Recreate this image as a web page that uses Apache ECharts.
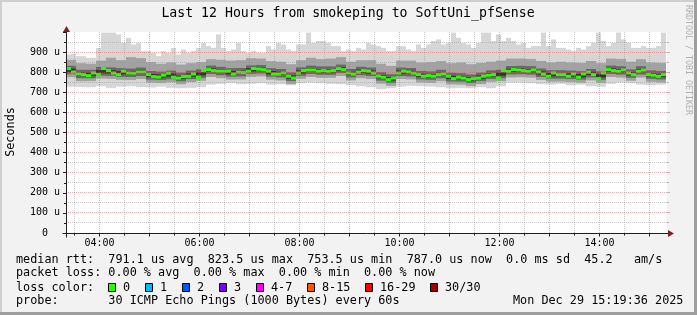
<!DOCTYPE html>
<html><head><meta charset="utf-8">
<script src="https://cdn.jsdelivr.net/npm/echarts@6/dist/echarts.min.js"></script>
<style>html,body{margin:0;padding:0;background:#f2f2f2;}#c{width:697px;height:315px;}</style>
</head><body><div id="c"></div>
<script>
// ---------- data ----------
const titleText = 'Last 12 Hours from smokeping to SoftUni_pfSense';
const startMin = 199.8;   // 03:19:48 in minutes after midnight
const endMin = 921.0;
const medStep = 6;        // minutes per median / max sample
const bandStep = 12;      // minutes per smoke band sample

// median rtt (µs)
const median = [818,801,791,788,783,796,788,818,808,796,788,805,796,795,801,801,788,778,776,785,795,775,771,778,780,791,775,808,813,808,
805,805,805,791,800,798,805,818,815,813,805,791,791,796,780,771,796,808,811,811,805,808,805,808,818,813,796,791,801,808,
805,796,780,775,763,771,796,805,801,796,788,780,783,780,788,791,780,768,775,771,763,768,771,780,785,788,771,808,805,813,
811,808,805,811,801,791,780,796,788,788,780,791,775,791,800,788,768,796,813,808,805,811,796,788,805,810,788,785,780,788];
// highest ping (µs)
const pingMax = [888,891,880,880,871,871,921,997,997,997,988,946,971,938,946,905,905,896,880,905,896,921,888,913,896,905,921,946,930,921,
988,921,905,913,946,905,896,905,896,896,930,913,946,938,913,905,938,938,997,946,955,955,946,930,930,905,913,905,921,913,
946,938,930,921,905,905,930,930,913,905,938,921,938,955,963,938,946,997,971,946,938,921,946,997,997,955,988,955,971,955,
938,946,921,930,930,997,930,963,921,921,913,905,921,913,930,946,997,955,930,946,997,963,946,921,921,930,921,921,930,997];
// lowest ping (µs)
const pingMin = [728,726,725,730,722,728,730,726,724,728,722,720,722,725,738,
742,745,740,742,745,738,740,735,745,748,745,742,740,735,730,
725,715,720,728,732,730,728,725,720,722,720,725,720,730,748,
748,745,740,738,742,735,738,730,728,742,748,745,738,735,738];
// smoke percentiles (µs)
const p90 = [862,845,842,858,872,860,875,870,850,842,848,838,845,850,865, 862,858,860,870,868,855,852,840,860,872,865,868,875,852,860,
860,842,832,858,858,848,850,855,845,848,840,846,852,858,868, 868,866,856,848,852,848,846,856,845,868,866,852,865,848,846];
const p75 = [832,812,812,826,824,820,818,823,806,803,808,798,808,814,833, 827,820,821,834,836,820,816,799,824,833,829,829,838,816,827,
823,800,790,823,821,806,804,812,797,795,789,798,809,812,831, 832,830,818,810,810,808,805,816,804,833,830,814,830,809,806];
const p60 = [818,798,798,811,810,805,804,809,791,789,793,783,794,800,819, 813,806,807,820,822,806,802,784,810,819,815,815,824,802,813,
809,786,775,809,807,792,790,798,782,781,774,784,795,798,817, 818,816,804,796,796,794,791,802,790,819,816,800,816,795,792];
const p40 = [802,782,782,795,794,789,788,793,775,773,777,767,778,784,803, 797,790,791,804,806,790,786,768,794,803,799,799,808,786,797,
793,770,759,793,791,776,774,782,766,765,758,768,779,782,801, 802,800,788,780,780,778,775,786,774,803,800,784,800,779,776];
const p25 = [790,770,770,783,782,777,776,781,763,761,765,755,766,772,791, 785,778,779,792,794,778,774,756,782,791,787,787,796,774,785,
781,758,747,781,779,764,762,770,754,753,746,756,767,770,789, 790,788,776,768,768,766,763,774,762,791,788,772,788,767,764];
const p10 = [775,755,755,768,767,762,761,766,748,746,750,740,751,757,776, 770,763,764,777,779,763,759,741,767,776,772,772,781,759,770,
766,743,732,766,764,749,747,755,739,738,731,741,752,755,774, 775,773,761,753,753,751,748,759,747,776,773,757,773,752,749];

const yGridValues = [50,100,150,200,250,300,350,400,450,500,550,600,650,700,750,800,850,900,950];
const xGridMinutes = [210,240,270,300,330,360,390,420,450,480,510,540,570,600,630,660,690,720,750,780,810,840,870,900];
const xLabelMinutes = [240,360,480,600,720,840];
const xLabels = ['04:00','06:00','08:00','10:00','12:00','14:00'];

const legendLines = [
  'median rtt:  791.1 us avg  823.5 us max  753.5 us min  787.0 us now  0.0 ms sd  45.2   am/s',
  'packet loss: 0.00 % avg  0.00 % max  0.00 % min  0.00 % now',
  'loss color:',
  'probe:       30 ICMP Echo Pings (1000 Bytes) every 60s'
];
const dateText = 'Mon Dec 29 15:19:36 2025';
const lossLabels = ['0','1','2','3','4-7','8-15','16-29','30/30'];
const lossColors = ['#26ff00','#00b8ff','#0059ff','#7e00ff','#ff00ff','#ff5500','#ff0000','#a10000'];

// ---------- chart ----------
const MONO = '"DejaVu Sans Mono", monospace';
const chart = echarts.init(document.getElementById('c'), null, {renderer:'canvas'});

const medData = median.map((v,i)=>[startMin+i*medStep, startMin+(i+1)*medStep, v, v]);
const lightData = pingMax.map((v,i)=>[startMin+i*medStep, startMin+(i+1)*medStep, pingMin[Math.floor(i/2)], v]);
const bandData = (lo, hi) => lo.map((v,i)=>[startMin+i*bandStep, startMin+(i+1)*bandStep, v, hi[i]]);

function bandSeries(data, color, z){
  return {type:'custom', z, silent:true, data, encode:{x:[0,1], y:[2,3]},
    renderItem:(params, api)=>{
      const a = api.coord([api.value(0), api.value(3)]);
      const b = api.coord([api.value(1), api.value(2)]);
      return {type:'rect', shape:{x:a[0], y:a[1], width:b[0]-a[0], height:b[1]-a[1]}, style:{fill:color}};
    }};
}

const series = [
  bandSeries(lightData, '#d6d6d6', 2),
  bandSeries(bandData(p10,p90), '#a2a2a2', 3),
  bandSeries(bandData(p25,p75), '#686868', 4),
  bandSeries(bandData(p40,p60), '#343434', 5),
  {type:'custom', z:6, silent:true, data:medData, encode:{x:[0,1], y:[2,3]},
    renderItem:(params, api)=>{
      const a = api.coord([api.value(0), api.value(2)]);
      const b = api.coord([api.value(1), api.value(2)]);
      return {type:'rect', shape:{x:a[0], y:a[1]-1.5, width:b[0]-a[0], height:3}, style:{fill:'#26ff00'}};
    }},
  // vertical grid
  {type:'custom', z:7, silent:true, data:xGridMinutes.map(t=>[t,0]), encode:{x:0,y:1},
    renderItem:(params, api)=>{
      const t = api.value(0);
      const c0 = api.coord([t,0]), c1 = api.coord([t,1000]);
      const x = Math.floor(c0[0])+0.5;
      const major = (t % 60) === 0;
      return {type:'group', children:[
        {type:'line', shape:{x1:x,y1:c0[1],x2:x,y2:c1[1]}, style:{stroke: major?'rgba(232,82,82,0.45)':'rgba(143,143,143,0.45)', lineWidth:1, lineDash:[1,1]}},
        {type:'line', shape:{x1:x,y1:Math.floor(c0[1])+0.5,x2:x,y2:Math.floor(c0[1])+(major?3.5:2.5)}, style:{stroke:'#1f1f1f', lineWidth:1}}
      ]};
    }},
  // horizontal grid
  {type:'custom', z:7, silent:true, data:yGridValues.map(v=>[startMin,v]), encode:{x:0,y:1},
    renderItem:(params, api)=>{
      const v = api.value(1);
      const c0 = api.coord([startMin,v]), c1 = api.coord([endMin,v]);
      const y = Math.floor(c0[1])+0.5;
      const major = (v % 100) === 0;
      return {type:'group', children:[
        {type:'line', shape:{x1:c0[0],y1:y,x2:c1[0],y2:y}, style:{stroke: major?'rgba(232,82,82,0.45)':'rgba(143,143,143,0.45)', lineWidth:1, lineDash:[1,1]}},
        {type:'line', shape:{x1:c1[0],y1:y,x2:c1[0]+(major?3:2),y2:y}, style:{stroke:'rgba(143,143,143,0.6)', lineWidth:1}}
      ]};
    }},
  // axes + arrows
  {type:'custom', z:8, silent:true, data:[[startMin,0]], encode:{x:0,y:1},
    renderItem:(params, api)=>{
      const o = api.coord([startMin,0]);
      const top = api.coord([startMin,1000]);
      const right = api.coord([endMin,0]);
      const ox = Math.floor(o[0])+0.5, oy = Math.floor(o[1])+0.5;
      return {type:'group', children:[
        {type:'line', shape:{x1:ox,y1:oy+4,x2:ox,y2:top[1]-4}, style:{stroke:'#1f1f1f', lineWidth:1}},
        {type:'line', shape:{x1:ox-4,y1:oy,x2:right[0]+3,y2:oy}, style:{stroke:'#1f1f1f', lineWidth:1}},
        {type:'polygon', shape:{points:[[ox,top[1]-6],[ox-3.5,top[1]],[ox+3.5,top[1]]]}, style:{fill:'#7f1f1f'}},
        {type:'polygon', shape:{points:[[right[0]+7,oy],[right[0]+1,oy-3.5],[right[0]+1,oy+3.5]]}, style:{fill:'#7f1f1f'}}
      ]};
    }},
  // x labels
  {type:'custom', z:8, silent:true, data:xLabelMinutes.map((t,i)=>[t,0,i]), encode:{x:0,y:1},
    renderItem:(params, api)=>{
      const c = api.coord([api.value(0),0]);
      return {type:'text', x:c[0], y:c[1]+10, style:{text:xLabels[api.value(2)], font:'10px '+MONO, fill:'#000', textAlign:'center', textVerticalAlign:'middle'}};
    }}
];

const graphic = [
  {type:'rect', shape:{x:0,y:0,width:697,height:2}, style:{fill:'#cfcfcf'}, silent:true},
  {type:'rect', shape:{x:0,y:0,width:2,height:315}, style:{fill:'#cfcfcf'}, silent:true},
  {type:'rect', shape:{x:0,y:312,width:697,height:3}, style:{fill:'#9e9e9e'}, silent:true},
  {type:'rect', shape:{x:694,y:0,width:3,height:315}, style:{fill:'#9e9e9e'}, silent:true},
  {type:'text', x:348, y:13.5, style:{text:titleText, font:'13.2px '+MONO, fill:'#000', textAlign:'center', textVerticalAlign:'middle'}},
  {type:'text', x:10.5, y:132, rotation:Math.PI/2, style:{text:'Seconds', font:'11.8px '+MONO, fill:'#000', textAlign:'center', textVerticalAlign:'middle'}},
  {type:'text', x:688, y:60, rotation:-Math.PI/2, style:{text:'RRDTOOL / TOBI OETIKER', font:'8.3px '+MONO, fill:'#b0b0b0', textAlign:'center', textVerticalAlign:'middle'}},
  {type:'text', x:16, y:259.5, style:{text:legendLines[0], font:'11.8px '+MONO, fill:'#000', textAlign:'left', textVerticalAlign:'middle'}},
  {type:'text', x:16, y:273, style:{text:legendLines[1], font:'11.8px '+MONO, fill:'#000', textAlign:'left', textVerticalAlign:'middle'}},
  {type:'text', x:16, y:287.5, style:{text:legendLines[2], font:'11.8px '+MONO, fill:'#000', textAlign:'left', textVerticalAlign:'middle'}},
  {type:'text', x:16, y:301, style:{text:legendLines[3], font:'11.8px '+MONO, fill:'#000', textAlign:'left', textVerticalAlign:'middle'}},
  {type:'text', x:513, y:301, style:{text:dateText, font:'11.8px '+MONO, fill:'#000', textAlign:'left', textVerticalAlign:'middle'}}
];
const boxX = [108.5,145.5,182.5,219.5,256.5,307.5,365.5,430.5];
lossLabels.forEach((lab,i)=>{
  graphic.push({type:'rect', shape:{x:boxX[i], y:283.5, width:7, height:8}, style:{fill:lossColors[i], stroke:'#000', lineWidth:1}});
  graphic.push({type:'text', x:boxX[i]+14.5, y:287.5, style:{text:lab, font:'11.8px '+MONO, fill:'#000', textAlign:'left', textVerticalAlign:'middle'}});
});

chart.setOption({
  animation:false,
  backgroundColor:'#f2f2f2',
  grid:{left:66, top:32, width:601, height:201, show:true, backgroundColor:'#ffffff', borderWidth:0},
  xAxis:{type:'value', min:startMin, max:endMin, show:false},
  yAxis:{type:'value', min:0, max:1000, interval:100,
    axisLine:{show:false},
    axisTick:{show:true, length:3, lineStyle:{color:'#1f1f1f'}},
    minorTick:{show:true, splitNumber:2, length:2, lineStyle:{color:'#1f1f1f'}},
    splitLine:{show:false},
    axisLabel:{margin:6, color:'#000', fontFamily:'"DejaVu Sans Mono", monospace', fontSize:10,
      formatter:v=> v===1000 ? '' : (v===0 ? '0  ' : v+' u')}},
  series,
  graphic
});
</script></body></html>
